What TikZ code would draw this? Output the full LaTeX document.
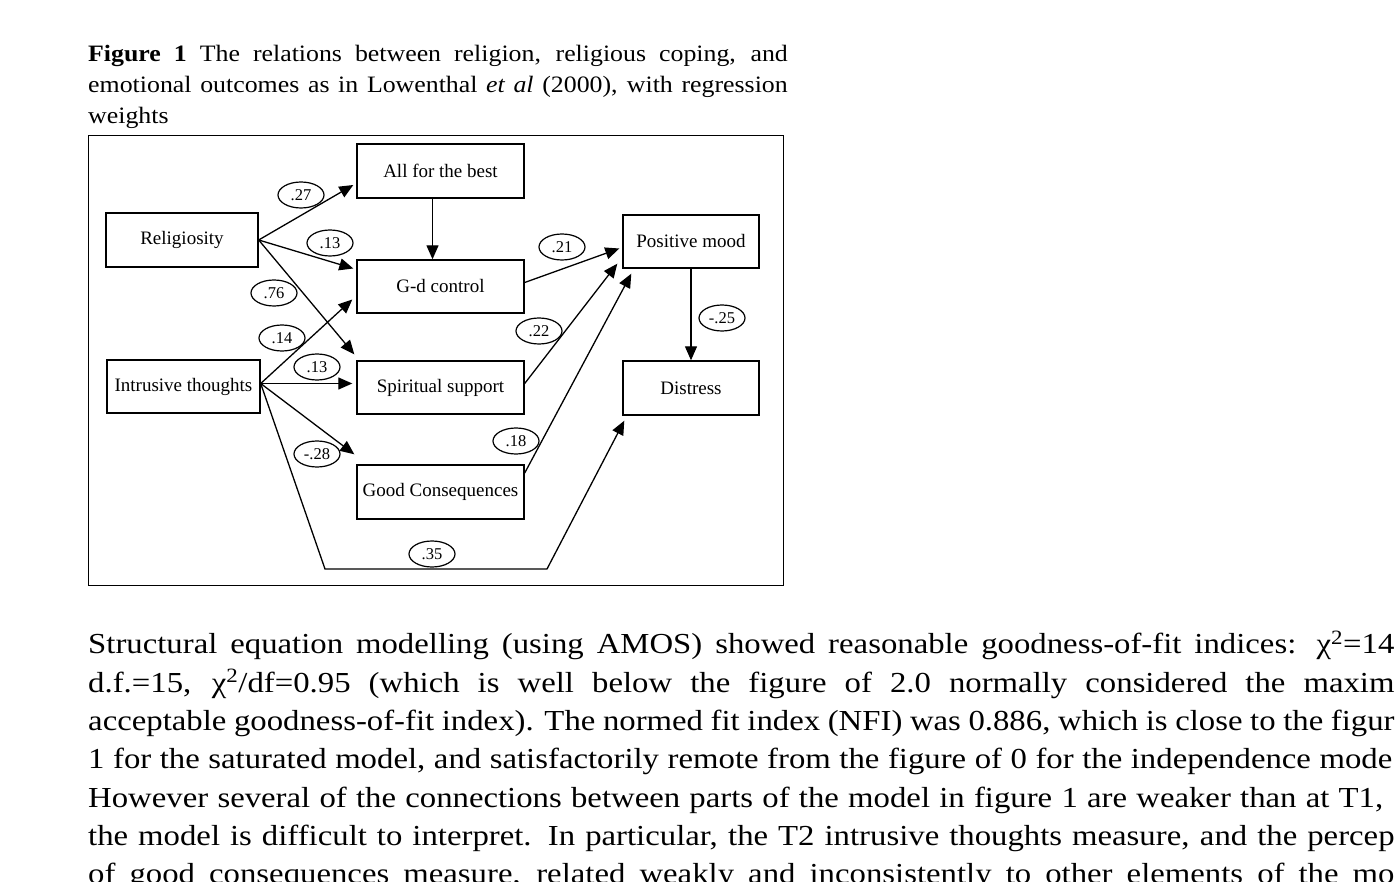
\documentclass[tikz,border=0pt]{standalone}
\usepackage{fontspec}
\usepackage{graphicx}
\setmainfont{Liberation Serif}
\newfontfamily\bodyfont{Liberation Serif}
\usetikzlibrary{arrows.meta,shapes.geometric,calc}
% justified line: optional horizontal scale #1, width #2 (already divided by scale), text #3
\newcommand\jline[3][1.13]{\scalebox{#1}[1]{\makebox[#2][s]{#3}}}
\begin{document}
\begin{tikzpicture}[x=1pt,y=-1pt,
  box/.style={draw,line width=1.4pt,inner sep=0pt,font=\fontsize{19}{22}\selectfont},
  wt/.style={draw,ellipse,line width=1.2pt,minimum width=46pt,minimum height=26pt,inner sep=0pt,font=\fontsize{16.5}{18}\selectfont},
  arr/.style={line width=1.3pt,-{Triangle[length=14pt,width=12pt]}},
  capline/.style={anchor=base west,inner sep=0pt,font=\bodyfont\fontsize{23.5}{30}\selectfont},
  bodyline/.style={anchor=base west,inner sep=0pt,font=\bodyfont\fontsize{29}{38}\selectfont}]
\useasboundingbox (0,0) rectangle (1395,882);
\clip (0,0) rectangle (1395,882);
% caption
\node[capline] (c1) at (88,62) {\jline[1.1]{636pt}{\textbf{Figure 1} The relations between religion, religious coping, and}};
\node[capline] (c2) at (88,92.7) {\jline[1.1]{636pt}{emotional outcomes as in Lowenthal \textit{et al} (2000), with regression}};
\node[capline] (c3) at (88,123.3) {\scalebox{1.1}[1]{weights}};
% frame
\draw[line width=1pt] (88,135.5) rectangle (783,585);
% boxes
\node[box,minimum width=167pt,minimum height=54pt] (best) at (440.5,171) {All for the best};
\node[box,minimum width=152pt,minimum height=54pt] (rel) at (182,240) {Religiosity};
\node[box,minimum width=167pt,minimum height=53pt] (gd) at (440.5,286.5) {G-d control};
\node[box,minimum width=136pt,minimum height=53pt] (pm) at (691,241.5) {Positive mood};
\node[box,minimum width=153pt,minimum height=53pt] (it) at (183.5,386.5) {Intrusive thoughts};
\node[box,minimum width=167pt,minimum height=53pt] (ss) at (440.5,387.5) {Spiritual support};
\node[box,minimum width=136pt,minimum height=54pt] (ds) at (691,388) {Distress};
\node[box,minimum width=167pt,minimum height=54pt] (gc) at (440.5,492) {Good Consequences};
% connectors
\coordinate (itx) at ($(it.east)+(0,-3)$);
\coordinate (b1) at (325,569);
\coordinate (b2) at (547,569);
\draw[arr] (rel.east) -- ($(best.west)+(-3,14)$);
\draw[arr] (rel.east) -- ($(gd.west)+(-3,-18)$);
\draw[arr] (rel.east) -- ($(ss.north west)+(-2,-6)$);
\draw[arr] (itx) -- ($(gd.west)+(-4,13)$);
\draw[arr] (itx) -- ($(ss.west)+(-4,-4)$);
\draw[arr] (itx) -- ($(gc.north west)+(-2,-10)$);
\draw[arr] (itx) -- (b1) -- (b2) -- ($(ds.south west)+(2,5)$);
\draw[arr] ($(best.south)+(-8,0)$) -- ($(gd.north)+(-8,0)$);
\draw[arr] ($(gd.east)+(0,-4)$) -- ($(pm.west)+(-3,7)$);
\draw[arr] ($(ss.east)+(0,-4)$) -- ($(pm.south west)+(-5,-5)$);
\draw[arr] ($(gc.east)+(0,-19)$) -- ($(pm.south west)+(9,5)$);
\draw[arr] (pm.south) -- (ds.north);
% weights
\node[wt] (w1) at (301,195) {.27};
\node[wt] (w2) at (330,243) {.13};
\node[wt] (w3) at (274,293) {.76};
\node[wt] (w4) at (282,338) {.14};
\node[wt] (w5) at (317,367) {.13};
\node[wt] (w6) at (317,454) {-.28};
\node[wt] (w7) at (432,554) {.35};
\node[wt] (w8) at (562,247) {.21};
\node[wt] (w9) at (539,331) {.22};
\node[wt] (w10) at (516,441) {.18};
\node[wt] (w11) at (722,318) {-.25};
% body text
\node[bodyline] (t1) at (88,653.5) {\jline{1156pt}{Structural equation modelling (using AMOS) showed reasonable goodness-of-fit indices: χ\textsuperscript{2}=14}};
\node[bodyline] (t2) at (88,692) {\jline{1156pt}{d.f.=15, χ\textsuperscript{2}/df=0.95 (which is well below the figure of 2.0 normally considered the maxim}};
\node[bodyline] (t3) at (88,730.3) {\jline{1156pt}{acceptable goodness-of-fit index). The normed fit index (NFI) was 0.886, which is close to the figur}};
\node[bodyline] (t4) at (88,768.7) {\jline{1154pt}{1 for the saturated model, and satisfactorily remote from the figure of 0 for the independence mode}};
\node[bodyline] (t5) at (88,807) {\jline{1146pt}{However several of the connections between parts of the model in figure 1 are weaker than at T1,}};
\node[bodyline] (t6) at (88,845.4) {\jline{1156pt}{the model is difficult to interpret. In particular, the T2 intrusive thoughts measure, and the percep}};
\node[bodyline] (t7) at (88,883.8) {\jline{1156pt}{of good consequences measure, related weakly and inconsistently to other elements of the mo}};
\end{tikzpicture}
\end{document}
